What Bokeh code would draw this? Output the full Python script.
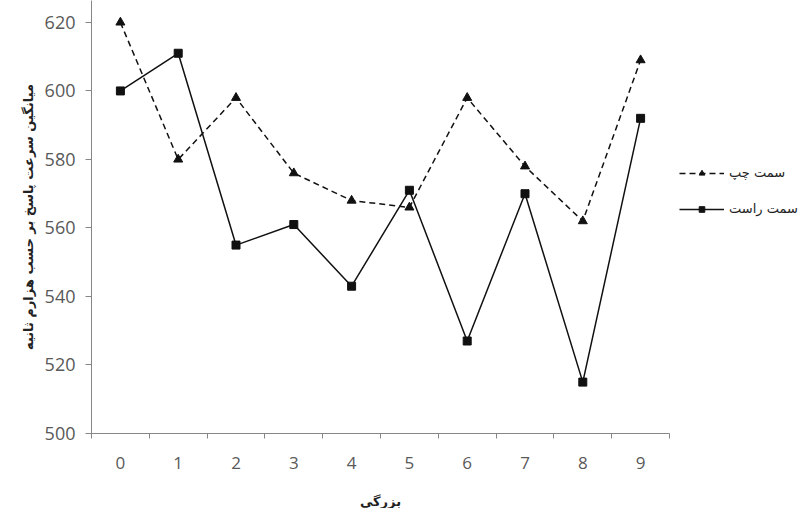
from bokeh.plotting import figure
from bokeh.models import Range1d, FixedTicker, Legend, LegendItem
from bokeh.embed import file_html
from bokeh.resources import INLINE

# data
magnitudes = [0, 1, 2, 3, 4, 5, 6, 7, 8, 9]
left_side = [620, 580, 598, 576, 568, 566, 598, 578, 562, 609]
right_side = [600, 611, 555, 561, 543, 571, 527, 570, 515, 592]
y_ticks = [500, 520, 540, 560, 580, 600, 620]
left_label = "سمت چپ"
right_label = "سمت راست"
x_title = "بزرگی"
y_title = "میانگین سرعت پاسخ بر حسب هزارم ثانیه"

p = figure(frame_width=578, frame_height=433, output_backend="svg", toolbar_location=None,
           x_range=Range1d(-0.5, 9.5), y_range=Range1d(500, 626.4),
           min_border_left=91, min_border_right=130, min_border_top=0, min_border_bottom=70)
p.outline_line_color = None
p.xgrid.grid_line_color = None
p.ygrid.grid_line_color = None
p.background_fill_color = "white"
p.border_fill_color = "white"

axis_col = "#868686"
lab_col = "#595959"

# x axis
p.xaxis.ticker = FixedTicker(ticks=magnitudes, minor_ticks=[m - 0.5 for m in magnitudes] + [9.5])
p.xaxis.axis_line_color = axis_col
p.xaxis.major_tick_line_color = None
p.xaxis.major_tick_out = 0
p.xaxis.major_tick_in = 0
p.xaxis.minor_tick_line_color = axis_col
p.xaxis.minor_tick_out = 5
p.xaxis.minor_tick_in = 0
p.xaxis.major_label_standoff = 18
p.xaxis.major_label_text_font = "Open Sans"
p.xaxis.major_label_text_font_size = "17px"
p.xaxis.major_label_text_color = lab_col
p.xaxis.axis_label = x_title
p.xaxis.axis_label_text_font = "DejaVu Sans"
p.xaxis.axis_label_text_font_style = "bold"
p.xaxis.axis_label_text_font_size = "13px"
p.xaxis.axis_label_text_color = "#222222"
p.xaxis.axis_label_standoff = 22

# y axis
p.yaxis.ticker = FixedTicker(ticks=y_ticks)
p.yaxis.axis_line_color = axis_col
p.yaxis.major_tick_line_color = axis_col
p.yaxis.major_tick_out = 6
p.yaxis.major_tick_in = 0
p.yaxis.minor_tick_line_color = None
p.yaxis.major_label_standoff = 10
p.yaxis.major_label_text_font = "Open Sans"
p.yaxis.major_label_text_font_size = "18px"
p.yaxis.major_label_text_color = lab_col
p.yaxis.axis_label = y_title
p.yaxis.axis_label_text_font = "DejaVu Sans"
p.yaxis.axis_label_text_font_style = "bold"
p.yaxis.axis_label_text_font_size = "13px"
p.yaxis.axis_label_text_color = "#222222"
p.yaxis.axis_label_standoff = 6

# series
l1 = p.line(magnitudes, left_side, line_color="#111111", line_width=1.5, line_dash="6 4")
s1 = p.scatter(magnitudes, left_side, marker="triangle", size=9,
               fill_color="#111111", line_color="#111111")
l2 = p.line(magnitudes, right_side, line_color="#111111", line_width=1.5)
s2 = p.scatter(magnitudes, right_side, marker="square", size=8,
               fill_color="#111111", line_color="#111111")

legend = Legend(items=[LegendItem(label=left_label, renderers=[l1, s1]),
                       LegendItem(label=right_label, renderers=[l2, s2])],
                location=(10, 217), orientation="vertical",
                glyph_width=45, glyph_height=14, spacing=21, padding=0, margin=0,
                label_standoff=5, label_text_font="DejaVu Sans",
                label_text_font_size="13px", label_text_color="#222222",
                border_line_color=None, background_fill_alpha=0)
p.add_layout(legend, "right")

open("out.html", "w").write(file_html(p, INLINE))
